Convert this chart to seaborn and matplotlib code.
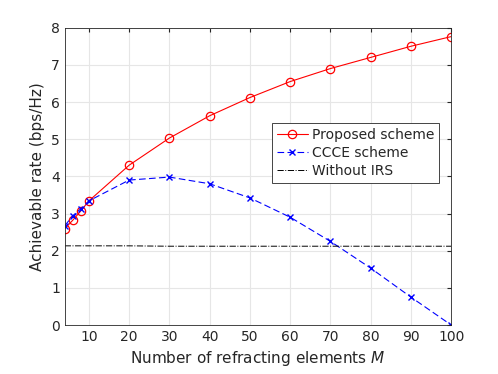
import matplotlib
matplotlib.use("Agg")
import matplotlib.pyplot as plt
import seaborn as sns
import pandas as pd

M = [4, 6, 8, 10, 20, 30, 40, 50, 60, 70, 80, 90, 100]
proposed = [2.59, 2.82, 3.07, 3.34, 4.30, 5.03, 5.63, 6.12, 6.55, 6.90, 7.20, 7.50, 7.76]
ccce = [2.67, 2.94, 3.13, 3.34, 3.90, 3.98, 3.80, 3.42, 2.90, 2.25, 1.53, 0.75, 0.0]
without_irs = [2.13, 2.13, 2.13, 2.13, 2.13, 2.12, 2.12, 2.12, 2.12, 2.12, 2.12, 2.12, 2.12]
xticks = [10, 20, 30, 40, 50, 60, 70, 80, 90, 100]
yticks = [0, 1, 2, 3, 4, 5, 6, 7, 8]

sns.set_style("white")
plt.rcParams['font.family'] = ['DejaVu Sans']

df = pd.DataFrame({"M": M, "proposed": proposed, "ccce": ccce, "without": without_irs})

fig = plt.figure(figsize=(4.98, 3.74), dpi=100)
ax = fig.add_axes([0.130, 0.131, 0.776, 0.795])

sns.lineplot(data=df, x="M", y="proposed", ax=ax, color="#ff0000", lw=0.8,
             marker="o", markersize=6, markerfacecolor="none", markeredgecolor="#ff0000",
             markeredgewidth=0.9, label="Proposed scheme")
sns.lineplot(data=df, x="M", y="ccce", ax=ax, color="#0000ff", lw=0.8,
             marker="x", markersize=5, markeredgecolor="#0000ff", markeredgewidth=1.0,
             label="CCCE scheme")
ax.lines[-1].set_dashes([6, 3])
sns.lineplot(data=df, x="M", y="without", ax=ax, color="black", lw=0.7,
             label="Without IRS")
ax.lines[-1].set_linestyle("-.")

ax.set_xlim(4, 100)
ax.set_ylim(0, 8)
ax.set_xticks(xticks)
ax.set_yticks(yticks)
ax.grid(True, color="#e6e6e6", lw=0.8)
ax.tick_params(direction="in", length=3, labelsize=10, colors="#262626", top=True, right=True)
for s in ax.spines.values():
    s.set_color("#262626")
    s.set_linewidth(0.6)
ax.set_xlabel("Number of refracting elements $M$", fontsize=11, color="#262626")
ax.set_ylabel("Achievable rate (bps/Hz)", fontsize=11, color="#262626")

leg = ax.legend(loc="upper left", bbox_to_anchor=(0.537, 0.679), fontsize=10,
                frameon=True, fancybox=False, edgecolor="#262626", framealpha=1,
                handlelength=2.2, handletextpad=0.3, borderpad=0.35, labelspacing=0.3,
                borderaxespad=0)
leg.get_frame().set_linewidth(0.6)

fig.savefig("out.png", dpi=100)
